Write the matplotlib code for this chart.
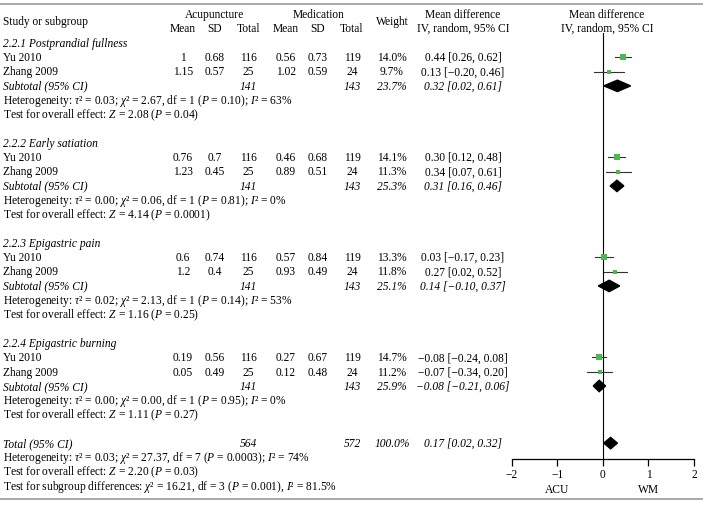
import numpy as np
import matplotlib.pyplot as plt
import matplotlib.transforms as mtransforms

plt.rcParams['font.family'] = ['Liberation Serif', 'DejaVu Serif']
plt.rcParams['mathtext.fontset'] = 'custom'
plt.rcParams['mathtext.rm'] = 'Liberation Serif'
plt.rcParams['mathtext.it'] = 'Liberation Serif:italic'

# subgroups
groups = ['2.2.1 Postprandial fullness', '2.2.2 Early satiation',
          '2.2.3 Epigastric pain', '2.2.4 Epigastric burning']
studies = ['Yu 2010', 'Zhang 2009']

# per study: acupuncture mean/sd/total, medication mean/sd/total
acu_mean = [['1', '1.15'], ['0.76', '1.23'], ['0.6', '1.2'], ['0.19', '0.05']]
acu_sd = [['0.68', '0.57'], ['0.7', '0.45'], ['0.74', '0.4'], ['0.56', '0.49']]
acu_n = [[116, 25]] * 4
med_mean = [['0.56', '1.02'], ['0.46', '0.89'], ['0.57', '0.93'], ['0.27', '0.12']]
med_sd = [['0.73', '0.59'], ['0.68', '0.51'], ['0.84', '0.49'], ['0.67', '0.48']]
med_n = [[119, 24]] * 4
weights = [[14.0, 9.7], [14.1, 11.3], [13.3, 11.8], [14.7, 11.2]]
md = [[0.44, 0.13], [0.30, 0.34], [0.03, 0.27], [-0.08, -0.07]]
md_lo = [[0.26, -0.20], [0.12, 0.07], [-0.17, 0.02], [-0.24, -0.34]]
md_hi = [[0.62, 0.46], [0.48, 0.61], [0.23, 0.52], [0.08, 0.20]]

# subtotals
sub_acu_n = [141, 141, 141, 141]
sub_med_n = [143, 143, 143, 143]
sub_weight = [23.7, 25.3, 25.1, 25.9]
sub_md = [0.32, 0.31, 0.14, -0.08]
sub_lo = [0.02, 0.16, -0.10, -0.21]
sub_hi = [0.61, 0.46, 0.37, 0.06]
sub_tau2 = ['0.03', '0.00', '0.02', '0.00']
sub_chi2 = ['2.67', '0.06', '2.13', '0.00']
sub_p_het = ['0.10', '0.81', '0.14', '0.95']
sub_i2 = ['63', '0', '53', '0']
sub_z = ['2.08', '4.14', '1.16', '1.11']
sub_p = ['0.04', '0.0001', '0.25', '0.27']

# overall
tot_acu_n, tot_med_n, tot_weight = 564, 572, 100.0
tot_md, tot_lo, tot_hi = 0.17, 0.02, 0.32

W, H = 703, 507
fig = plt.figure(figsize=(W / 100, H / 100), dpi=100)

row0_px, row_h = 43, 14.29
def px2fig_y(px):
    return 1 - px / H

ytop, ybot = -0.7, 29.1
ax = fig.add_axes([511.7 / W, px2fig_y(row0_px + row_h * ybot),
                   (694 - 511.7) / W, row_h * (ybot - ytop) / H])
ax.set_xlim(-2, 2)
ax.set_ylim(ybot, ytop)
for s in ['left', 'right', 'top']:
    ax.spines[s].set_visible(False)
ax.spines['bottom'].set_linewidth(0.9)
ax.set_yticks([])
ax.set_xticks([-2, -1, 0, 1, 2])
ax.set_xticklabels(['\u22122', '\u22121', '0', '1', '2'])
ax.tick_params(axis='x', direction='out', length=5, width=0.9, labelsize=8.3, pad=2)
ax.axvline(0, color='black', lw=0.8, zorder=1)

tr = mtransforms.blended_transform_factory(fig.transFigure, ax.transData)
fs = 8.3

def tx(xpx, row, s, ha='center', style='normal'):
    # baseline placed a bit below the row centre
    fig.text(xpx / W, row + 0.27, s, transform=tr, ha=ha, va='baseline',
             fontsize=fs, style=style)

# header
tx(3, -1.54, 'Study or subgroup', ha='left')
tx(215, -2.03, 'Acupuncture')
tx(319, -2.03, 'Medication')
for x0 in (183, 286):
    tx(x0, -1.05, 'Mean')
for x0 in (215, 318):
    tx(x0, -1.05, 'SD')
for x0 in (248, 352):
    tx(x0, -1.05, 'Total')
tx(392, -1.54, 'Weight')
tx(463, -2.03, 'Mean difference')
tx(463, -1.05, 'IV, random, 95% CI')
tx(607, -2.03, 'Mean difference')
tx(607, -1.05, 'IV, random, 95% CI')

def fmt(v):
    return ('%.2f' % v).replace('-', '\u2212')

green = '#4cb84f'
row = 0
for g in range(4):
    tx(3, row, groups[g], ha='left', style='italic')
    row += 1
    for k in range(2):
        tx(3, row, studies[k], ha='left')
        tx(183, row, acu_mean[g][k])
        tx(215, row, acu_sd[g][k])
        tx(248, row, str(acu_n[g][k]))
        tx(286, row, med_mean[g][k])
        tx(318, row, med_sd[g][k])
        tx(352, row, str(med_n[g][k]))
        tx(392, row, '%.1f%%' % weights[g][k])
        tx(463, row, '%s [%s, %s]' % (fmt(md[g][k]), fmt(md_lo[g][k]), fmt(md_hi[g][k])))
        ax.plot([md_lo[g][k], md_hi[g][k]], [row, row], color='#333333', lw=0.8, zorder=2)
        ax.plot(md[g][k], row, 's', color=green, ms=np.sqrt(weights[g][k]) * 1.0,
                mew=0, zorder=3)
        row += 1
    tx(3, row, 'Subtotal (95% CI)', ha='left', style='italic')
    tx(248, row, str(sub_acu_n[g]), style='italic')
    tx(352, row, str(sub_med_n[g]), style='italic')
    tx(392, row, '%.1f%%' % sub_weight[g], style='italic')
    tx(463, row, '%s [%s, %s]' % (fmt(sub_md[g]), fmt(sub_lo[g]), fmt(sub_hi[g])), style='italic')
    ax.fill([sub_lo[g], sub_md[g], sub_hi[g], sub_md[g]],
            [row, row - 0.4, row, row + 0.4], color='black', zorder=3)
    row += 1
    tx(3, row, 'Heterogeneity: $\\tau$\u00b2 = %s; $\\chi$\u00b2 = %s, df = 1 ($P$ = %s); $I$\u00b2 = %s%%'
       % (sub_tau2[g], sub_chi2[g], sub_p_het[g], sub_i2[g]), ha='left')
    row += 1
    tx(3, row, 'Test for overall effect: $Z$ = %s ($P$ = %s)' % (sub_z[g], sub_p[g]), ha='left')
    row += 2

tx(3, row, 'Total (95% CI)', ha='left', style='italic')
tx(248, row, str(tot_acu_n), style='italic')
tx(352, row, str(tot_med_n), style='italic')
tx(392, row, '%.1f%%' % tot_weight, style='italic')
tx(463, row, '%s [%s, %s]' % (fmt(tot_md), fmt(tot_lo), fmt(tot_hi)), style='italic')
ax.fill([tot_lo, tot_md, tot_hi, tot_md], [row, row - 0.4, row, row + 0.4],
        color='black', zorder=3)
tx(3, row + 1, 'Heterogeneity: $\\tau$\u00b2 = 0.03; $\\chi$\u00b2 = 27.37, df = 7 ($P$ = 0.0003); $I$\u00b2 = 74%',
   ha='left')
tx(3, row + 2, 'Test for overall effect: $Z$ = 2.20 ($P$ = 0.03)', ha='left')
tx(3, row + 3, 'Test for subgroup differences: $\\chi$\u00b2 = 16.21, df = 3 ($P$ = 0.001), $I$\u00b2 = 81.5%',
   ha='left')

# favours labels
tr2 = mtransforms.blended_transform_factory(ax.transData, fig.transFigure)
fig.text(-1, px2fig_y(490), 'ACU', transform=tr2, ha='center', va='center', fontsize=fs)
fig.text(1, px2fig_y(490), 'WM', transform=tr2, ha='center', va='center', fontsize=fs)

# rules
fig.add_artist(plt.Line2D([0, 1], [px2fig_y(4), px2fig_y(4)], color='#9a9a9a', lw=1.2))
fig.add_artist(plt.Line2D([0, 1], [px2fig_y(499), px2fig_y(499)], color='#9a9a9a', lw=1.2))

fig.savefig('out.png', dpi=100)
